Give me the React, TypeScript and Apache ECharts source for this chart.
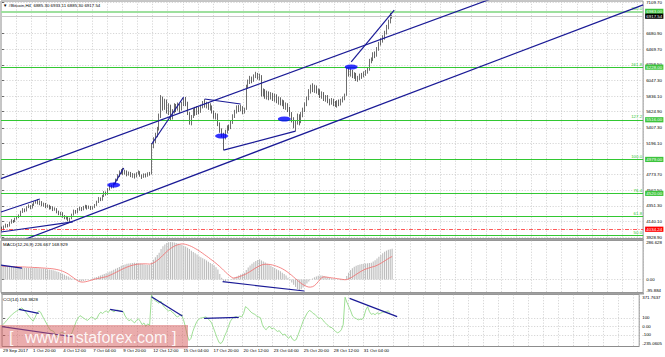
import React, { useEffect, useRef } from "react";
import * as echarts from "echarts";

const FONT = "Liberation Sans";
const FS = 4.4;
const N_SLOTS = 339;

const titleText = "▼ #Bitcoin,H4  6885.30 6933.11 6885.30 6917.54";
const macdTitle = "MACD(12,26,9) 226.667 168.929";
const cciTitle = "CCI(14) 158.3828";

const xLabels = ["29 Sep 2017", "1 Oct 20:00", "4 Oct 12:00", "7 Oct 04:00", "9 Oct 20:00", "12 Oct 12:00", "15 Oct 04:00", "17 Oct 20:00", "20 Oct 12:00", "23 Oct 04:00", "25 Oct 20:00", "28 Oct 12:00", "31 Oct 04:00"];

// [open, close, low, high]
const candles: number[][] = [
  [4045,4030,4010,4070],[4030,4065,4020,4085],[4065,4090,4055,4110],[4090,4075,4060,4105],[4075,4120,4070,4135],
  [4120,4150,4110,4170],[4150,4135,4120,4160],[4135,4175,4130,4190],[4175,4200,4165,4215],[4200,4215,4185,4235],
  [4215,4270,4210,4285],[4270,4300,4255,4320],[4300,4280,4265,4315],[4280,4330,4275,4345],[4330,4350,4320,4370],
  [4350,4320,4305,4360],[4320,4365,4315,4380],[4365,4390,4350,4410],[4390,4410,4380,4430],[4410,4385,4370,4442],
  [4385,4400,4360,4425],[4400,4360,4345,4415],[4360,4375,4340,4395],[4375,4340,4320,4390],[4340,4355,4325,4370],
  [4355,4320,4300,4365],[4320,4335,4305,4350],[4335,4300,4280,4345],[4300,4310,4285,4330],[4310,4270,4250,4320],
  [4270,4240,4225,4285],[4240,4255,4220,4270],[4255,4210,4190,4265],[4210,4185,4170,4225],[4185,4200,4165,4215],
  [4200,4160,4140,4210],[4160,4175,4130,4190],[4175,4230,4170,4245],[4230,4280,4220,4300],[4280,4260,4245,4295],
  [4260,4300,4250,4320],[4300,4320,4285,4340],[4320,4295,4280,4335],[4295,4330,4290,4350],[4330,4345,4315,4365],
  [4345,4320,4300,4360],[4320,4340,4310,4355],[4340,4310,4295,4350],[4310,4330,4300,4345],[4330,4360,4320,4375],
  [4360,4400,4350,4420],[4400,4450,4390,4470],[4450,4430,4415,4465],[4430,4480,4420,4500],[4480,4530,4470,4550],
  [4530,4510,4490,4545],[4510,4570,4500,4590],[4570,4620,4560,4640],[4620,4600,4585,4635],[4600,4650,4590,4665],
  [4650,4700,4640,4720],[4700,4760,4690,4780],[4760,4800,4740,4830],[4800,4830,4780,4850],[4830,4790,4770,4865],
  [4790,4820,4775,4840],[4820,4770,4750,4830],[4770,4800,4760,4815],[4800,4760,4740,4810],[4760,4780,4730,4795],
  [4780,4740,4720,4790],[4740,4790,4735,4805],[4790,4810,4775,4830],[4810,4760,4745,4820],[4760,4740,4715,4775],
  [4740,4775,4730,4790],[4775,4750,4735,4790],[4750,4790,4745,4805],[4790,4780,4760,4810],[4780,5170,4775,5200],
  [5170,5240,5130,5280],[5240,5310,5200,5340],[5310,5390,5280,5420],[5390,5560,5370,5600],[5560,5790,5540,5850],
  [5790,5700,5640,5830],[5700,5760,5650,5800],[5760,5650,5600,5790],[5650,5700,5580,5740],[5700,5560,5510,5720],
  [5560,5620,5520,5660],[5620,5700,5600,5740],[5700,5660,5620,5730],[5660,5710,5640,5750],[5710,5650,5610,5730],
  [5650,5720,5640,5760],[5720,5780,5700,5810],[5780,5740,5700,5825],[5740,5600,5580,5760],[5600,5490,5450,5620],
  [5490,5560,5440,5580],[5560,5640,5540,5670],[5640,5600,5570,5690],[5600,5670,5580,5700],[5670,5620,5590,5690],
  [5620,5690,5610,5720],[5690,5740,5670,5770],[5740,5700,5680,5795],[5700,5730,5670,5760],[5730,5680,5650,5750],
  [5680,5700,5640,5740],[5700,5620,5600,5710],[5620,5560,5530,5640],[5560,5590,5520,5610],[5590,5460,5430,5600],
  [5460,5380,5340,5480],[5380,5320,5280,5400],[5320,5290,5105,5340],[5290,5350,5250,5380],[5350,5420,5330,5440],
  [5420,5400,5370,5450],[5400,5480,5390,5510],[5480,5560,5460,5590],[5560,5620,5540,5650],[5620,5680,5600,5710],
  [5680,5650,5620,5715],[5650,5690,5630,5720],[5690,5620,5590,5700],[5620,5660,5600,5680],[5660,5960,5650,5990],
  [5960,6030,5940,6060],[6030,6080,6000,6110],[6080,6040,6010,6100],[6040,6100,6030,6130],[6100,6130,6080,6165],
  [6130,6080,6060,6150],[6080,6110,6050,6140],[6110,5860,5830,6120],[5860,5900,5830,5940],[5900,5850,5800,5930],
  [5850,5880,5790,5910],[5880,5820,5780,5900],[5820,5860,5790,5890],[5860,5810,5770,5880],[5810,5840,5760,5870],
  [5840,5780,5740,5860],[5780,5800,5720,5830],[5800,5740,5710,5820],[5740,5770,5700,5790],[5770,5700,5660,5780],
  [5700,5720,5650,5750],[5720,5660,5620,5740],[5660,5600,5560,5690],[5600,5530,5480,5620],[5530,5440,5400,5550],
  [5440,5480,5362,5500],[5480,5560,5450,5600],[5560,5500,5440,5590],[5500,5580,5470,5620],[5580,5640,5550,5680],
  [5640,5720,5620,5750],[5720,5800,5700,5830],[5800,5900,5780,5930],[5900,5950,5870,5990],[5950,5920,5890,6010],
  [5920,5960,5880,5990],[5960,5890,5870,5980],[5890,5910,5850,5940],[5910,5840,5810,5930],[5840,5870,5800,5900],
  [5870,5800,5770,5890],[5800,5830,5760,5850],[5830,5780,5740,5850],[5780,5750,5710,5800],[5750,5790,5720,5810],
  [5790,5740,5700,5800],[5740,5720,5690,5770],[5720,5760,5680,5780],[5760,5730,5700,5790],[5730,5770,5710,5800],
  [5770,5800,5750,5830],[5800,5850,5780,5870],[5850,6180,5840,6230],[6180,6140,6100,6220],[6140,6170,6100,6210],
  [6170,6110,6080,6190],[6110,6130,6070,6160],[6130,6060,6040,6150],[6060,6080,6030,6110],[6080,6120,6050,6140],
  [6120,6100,6070,6150],[6100,6140,6090,6170],[6140,6160,6110,6190],[6160,6190,6140,6220],[6190,6300,6180,6340],
  [6300,6330,6280,6360],[6330,6400,6310,6430],[6400,6380,6350,6440],[6380,6470,6370,6500],[6470,6540,6450,6570],
  [6540,6590,6520,6620],[6590,6620,6560,6660],[6620,6690,6600,6720],[6690,6760,6670,6800],[6760,6840,6740,6870],
  [6840,6885,6820,6990],[6885.3,6917.54,6885.3,6933.11],
];

const macdMain = [
  102,100,99,97,96,95,93,92,90,89,
  88,87,86,86,85,85,84,84,84,83,
  82,81,80,78,76,74,
  72,68,64,59,54,48,42,35,28,21,15,8,2,-4,-9,-13,-14,-12,-8,-4,0,4,9,14,19,24,30,35,40,45,
  52,58,64,71,78,85,92,
  100,106,111,115,118,120,122,123,122,
  120,117,114,111,109,107,106,
  125,145,163,180,196,
  225,245,258,268,273,
  275,274,272,268,264,259,255,
  248,242,234,224,212,202,192,183,
  170,163,156,148,140,131,122,113,104,90,74,40,12,-16,-12,-6,0,4,8,
  14,22,30,37,43,49,
  70,88,103,116,127,136,143,148,
  140,132,124,116,108,100,92,84,76,68,60,50,40,29,
  12,-6,-22,-38,-55,-70,-80,
  -72,-60,-45,-30,-15,-3,8,16,
  22,28,30,29,
  25,20,16,12,8,5,2,0,-3,-5,-6,-4,
  25,50,69,82,93,
  100,106,110,113,115,117,119,121,123,
  132,142,154,167,180,192,203,212,
  218,223,226.667,
];

const macdSignal = [
  98,97,97,96,96,95,95,94,94,93,93,92,92,91,90,90,89,88,88,87,86,85,84,83,82,81,
  80,78,76,73,70,66,61,55,48,40,
  30,20,10,0,-10,-16,-19,-19,-17,-14,-10,-6,-2,2,5,8,11,14,17,20,
  25,31,37,44,51,58,65,72,79,85,91,96,101,105,108,111,113,114,115,115,115,114,113,
  116,122,130,140,151,164,178,192,205,217,228,237,245,251,256,260,262,
  261,258,254,249,243,236,228,220,211,202,192,182,172,162,151,141,130,119,107,95,82,68,55,42,30,19,10,
  12,15,19,24,29,35,42,50,58,67,76,85,93,100,106,110,112,
  112,111,109,106,102,97,92,86,79,71,62,52,41,30,18,6,-6,-18,-29,-38,-46,-52,-56,-56,-53,
  -45,-32,-16,2,16,
  19,18,16,14,12,10,8,6,4,2,0,-2,
  -1,4,11,19,28,37,46,55,63,70,76,81,86,90,94,98,104,111,119,127,136,145,154,162,168.929,
];

const cciValues = [
  20,45,70,95,120,142,
  160,175,190,205,215,
  195,170,140,110,85,60,
  100,150,180,165,
  120,80,40,0,-40,
  -50,-60,-100,-135,-90,-70,-75,
  -95,-110,-120,-105,-60,
  0,60,100,125,
  110,95,80,70,90,110,100,80,95,
  140,165,150,170,180,160,
  198,185,170,185,190,182,178,172,
  120,90,65,80,60,40,
  70,90,60,20,40,0,30,10,
  365,
  320,300,285,270,295,250,220,200,180,190,
  165,150,120,110,130,135,
  80,0,-100,-165,
  -140,-60,0,50,80,
  95,100,105,110,90,70,
  40,-20,-80,-140,-190,-200,
  -170,-110,-60,0,60,
  90,105,115,100,120,110,
  150,230,215,190,
  165,150,140,120,110,100,
  20,-20,-40,
  -10,0,-30,-20,-40,
  -60,-50,-80,-100,-90,-120,-140,-110,-150,
  -165,-155,
  -100,-40,20,80,120,
  160,185,175,150,
  140,115,90,100,80,
  50,30,10,-10,-15,
  -40,-60,-75,-65,
  -40,20,
  340,
  280,230,180,120,
  100,90,75,85,80,
  110,190,230,
  170,140,150,135,160,145,
  155,165,170,175,180,158.3828,
];

const priceTicks = [7109.7, 6680.9, 6469.7, 6258.5, 6047.3, 5836.1, 5624.9, 5407.3, 5196.1, 4773.7, 4562.5, 4351.3, 4140.1, 3928.9];
// MACD / CCI pane: tick (grid) values, label anchor values and label texts
const macdTickValues = [0];
const macdLabelPos = [273.4, 0, -82.6];
const macdLabelText = ["286.628", "0.00", "-95.884"];
const cciTickValues = [100, 0, -100];
const cciLabelPos = [334.4, 100, 0, -100, -202.4];
const cciLabelText = ["371.7637", "100", "0.00", "-100", "-235.0605"];

const fibValues = [6983, 6228, 5516, 4979, 4520, 4207, 3950];
const fibNames = ["200.0", "161.8", "127.2", "100.0", "76.4", "61.8", "50.0"];
const fibBoxed = [true, true, true, true, true, false, false];
const bidPrice = 6917.54;
const redLevel = 4034.24;

// trend lines in [bar index, price]
const mainLines: number[][][] = [
  [[-0.5, 4720], [262.4, 7191]],
  [[9.5, 3871], [338.5, 7071]],
  [[-0.5, 4268], [20.0, 4444]],
  [[-0.5, 3997], [37.4, 4133]],
  [[59, 4633], [64.3, 4863]],
  [[79.1, 5188], [95.9, 5824]],
  [[107, 5797], [126, 5729]],
  [[117, 5105], [155, 5362]],
  [[184.4, 6298], [207.1, 7001]],
];
const ovals = [[59, 4633], [116, 5296], [149.1, 5526], [184.4, 6230]];
const questionMark = [[194, 6731]];
const macdLines: number[][][] = [
  [[-0.5, 106], [10.6, 84]],
  [[116.5, -16.5], [159.7, -85]],
];
const cciLines: number[][][] = [
  [[8.5, 199], [19, 152]],
  [[57, 199], [63.8, 171]],
  [[79, 346], [95.4, 121]],
  [[107, 94], [125.4, 105.7]],
  [[184.4, 327], [209.7, 113]],
  [[-0.5, -4], [36.9, -121]],
];

const NAVY = "#1a1a96";
const GREEN = "#32c832";
const gridLine = { show: true, lineStyle: { color: "#c4c4c4", type: [1.2, 1.6] as any, width: 0.7 } };

function buildOption() {
  const cats = Array.from({ length: N_SLOTS }, (_, i) => String(i));
  const catAxis = (gi: number, showLabel: boolean) => ({
    type: "category",
    gridIndex: gi,
    data: cats,
    boundaryGap: true,
    axisLine: { show: false },
    axisTick: { show: false },
    splitLine: { ...gridLine, interval: (i: number) => i % 8 === 0 },
    axisLabel: showLabel
      ? {
          show: true,
          interval: (i: number) => i % 16 === 0 && i / 16 < xLabels.length,
          formatter: (_v: string, i: number) => xLabels[Math.round(i / 16)] ?? "",
          align: "left",
          fontSize: FS,
          fontFamily: FONT,
          color: "#000",
          margin: 2,
        }
      : { show: false },
  });
  const valXAxis = (gi: number) => ({
    type: "value",
    gridIndex: gi,
    min: -0.5,
    max: N_SLOTS - 0.5,
    show: false,
  });
  const yAx = (gi: number, min: number, max: number, ticks: number[], labelPos: number[], fmt: (v: number) => string) => ({
    type: "value",
    gridIndex: gi,
    position: "right",
    min,
    max,
    axisLine: { show: false },
    axisTick: { show: true, length: 2, customValues: ticks, lineStyle: { color: "#000", width: 0.6 } },
    axisLabel: {
      customValues: labelPos,
      formatter: fmt,
      fontSize: FS,
      fontFamily: FONT,
      color: "#000",
      margin: 3,
    },
    splitLine: gridLine,
  });
  const lookup = (pos: number[], texts: string[]) => (v: number) => {
    let best = 0;
    pos.forEach((p, i) => {
      if (Math.abs(p - v) < Math.abs(pos[best] - v)) best = i;
    });
    return texts[best];
  };

  const lineSeries = (data: number[][], xi: number, yi: number, width = 1.2) => ({
    type: "line",
    xAxisIndex: xi,
    yAxisIndex: yi,
    data,
    symbol: "none",
    showSymbol: false,
    silent: true,
    lineStyle: { color: NAVY, width },
    z: 5,
  });

  const fibMarks = fibValues.map((v, i) => ({
    yAxis: v,
    lineStyle: { color: i === 0 ? "#9ee09e" : GREEN, width: i === 0 ? 2 : 1, type: "solid" },
    label: {
      show: true,
      position: "insideEndTop",
      formatter: fibNames[i],
      color: GREEN,
      fontSize: FS,
      fontFamily: FONT,
      distance: 1,
    },
  }));
  const boxLabel = (bg: string) => ({
    show: true,
    position: "end",
    distance: 2,
    color: "#fff",
    backgroundColor: bg,
    padding: [0.8, 1.2, 0.4, 1.2],
    fontSize: FS,
    fontFamily: FONT,
  });
  const boxMarks: any[] = [];
  fibValues.forEach((v, i) => {
    if (fibBoxed[i]) {
      boxMarks.push({
        yAxis: v,
        lineStyle: { color: "rgba(0,0,0,0)", width: 0 },
        label: { ...boxLabel("#3cc43c"), formatter: v.toFixed(2) },
      });
    }
  });
  boxMarks.push({
    yAxis: bidPrice,
    lineStyle: { color: "#c8c8c8", width: 1, type: "solid" },
    label: { ...boxLabel("#000"), formatter: bidPrice.toFixed(2) },
  });
  boxMarks.push({
    yAxis: redLevel,
    lineStyle: { color: "#ff3030", width: 0.8, type: [4, 1.5, 1, 1.5] },
    label: { ...boxLabel("#ff0000"), formatter: redLevel.toFixed(2) },
  });

  const series: any[] = [
    {
      type: "candlestick",
      xAxisIndex: 0,
      yAxisIndex: 0,
      data: candles,
      barWidth: 1.2,
      itemStyle: { color: "#ffffff", color0: "#202020", borderColor: "#303030", borderColor0: "#202020", borderWidth: 0.7 },
      markLine: { silent: true, symbol: ["none", "none"], animation: false, data: fibMarks },
      z: 3,
    },
    {
      ...lineSeries(mainLines[0], 3, 0),
      markLine: { silent: true, symbol: ["none", "none"], animation: false, data: boxMarks },
    },
    ...mainLines.slice(1).map((l) => lineSeries(l, 3, 0)),
    {
      type: "scatter",
      xAxisIndex: 3,
      yAxisIndex: 0,
      data: ovals,
      symbol: "circle",
      symbolSize: [13, 5],
      itemStyle: { color: "#0000ff" },
      silent: true,
      z: 6,
    },
    {
      type: "scatter",
      xAxisIndex: 3,
      yAxisIndex: 0,
      data: questionMark,
      symbolSize: 1,
      itemStyle: { opacity: 0 },
      label: { show: true, position: "inside", formatter: "?", color: "#2a2ab4", fontSize: 9, fontStyle: "italic", fontFamily: FONT },
      silent: true,
      z: 6,
    },
    {
      type: "bar",
      xAxisIndex: 1,
      yAxisIndex: 1,
      data: macdMain,
      barWidth: 1.1,
      itemStyle: { color: "#bdbdbd" },
      silent: true,
    },
    {
      type: "line",
      xAxisIndex: 1,
      yAxisIndex: 1,
      data: macdSignal,
      symbol: "none",
      showSymbol: false,
      lineStyle: { color: "#f26a6a", width: 0.8 },
      silent: true,
      z: 4,
    },
    ...macdLines.map((l) => lineSeries(l, 4, 1)),
    {
      type: "line",
      xAxisIndex: 2,
      yAxisIndex: 2,
      data: cciValues,
      symbol: "none",
      showSymbol: false,
      lineStyle: { color: "#86d67a", width: 0.8 },
      silent: true,
    },
    ...cciLines.map((l) => lineSeries(l, 5, 2)),
  ];

  const txt = (x: number, y: number, text: string, extra: any = {}) => ({
    type: "text",
    x,
    y,
    silent: true,
    z: 100,
    style: { text, fill: "#000", fontSize: FS, fontFamily: FONT, verticalAlign: "middle", ...extra },
  });

  return {
    animation: false,
    backgroundColor: "#ffffff",
    grid: [
      { left: 1, right: 21, top: 1, height: 237.5, show: true, borderColor: "#8c8c8c", borderWidth: 1, backgroundColor: "#fff" },
      { left: 1, right: 21, top: 240.5, height: 52, show: true, borderColor: "#8c8c8c", borderWidth: 1, backgroundColor: "#fff" },
      { left: 1, right: 21, top: 294.5, height: 52, show: true, borderColor: "#8c8c8c", borderWidth: 1, backgroundColor: "#fff" },
    ],
    xAxis: [catAxis(0, false), catAxis(1, false), catAxis(2, true), valXAxis(0), valXAxis(1), valXAxis(2)],
    yAxis: [
      yAx(0, 3909, 7123, priceTicks, priceTicks, (v) => v.toFixed(2)),
      yAx(1, -95.884, 286.628, macdTickValues, macdLabelPos, lookup(macdLabelPos, macdLabelText)),
      yAx(2, -235.0605, 371.7637, cciTickValues, cciLabelPos, lookup(cciLabelPos, cciLabelText)),
    ],
    series,
    graphic: [
      { type: "rect", silent: true, z: 90, shape: { x: 1, y: 238.5, width: 643, height: 2 }, style: { fill: "#a0a0a0" } },
      { type: "rect", silent: true, z: 90, shape: { x: 1, y: 292.5, width: 643, height: 2 }, style: { fill: "#a0a0a0" } },
      txt(3, 5.5, titleText),
      txt(3, 244.5, macdTitle),
      txt(3, 299, cciTitle),
      { type: "rect", silent: true, z: 95, shape: { x: 0, y: 325, width: 188, height: 23.5 }, style: { fill: "rgba(214,90,90,0.5)" } },
      txt(9, 337, "[", { fill: "rgba(255,255,255,0.9)", fontSize: 16 }),
      txt(25, 337, "www.instaforex.com", { fill: "rgba(255,255,255,0.9)", fontSize: 16 }),
      txt(172, 337, "]", { fill: "rgba(255,255,255,0.9)", fontSize: 16 }),
    ],
  };
}

export default function App() {
  const ref = useRef<HTMLDivElement>(null);
  useEffect(() => {
    document.body.style.margin = "0";
    const chart = echarts.init(ref.current!, null, { renderer: "svg" });
    chart.setOption(buildOption() as any);
    return () => chart.dispose();
  }, []);
  return <div ref={ref} style={{ width: 665, height: 357 }} />;
}
